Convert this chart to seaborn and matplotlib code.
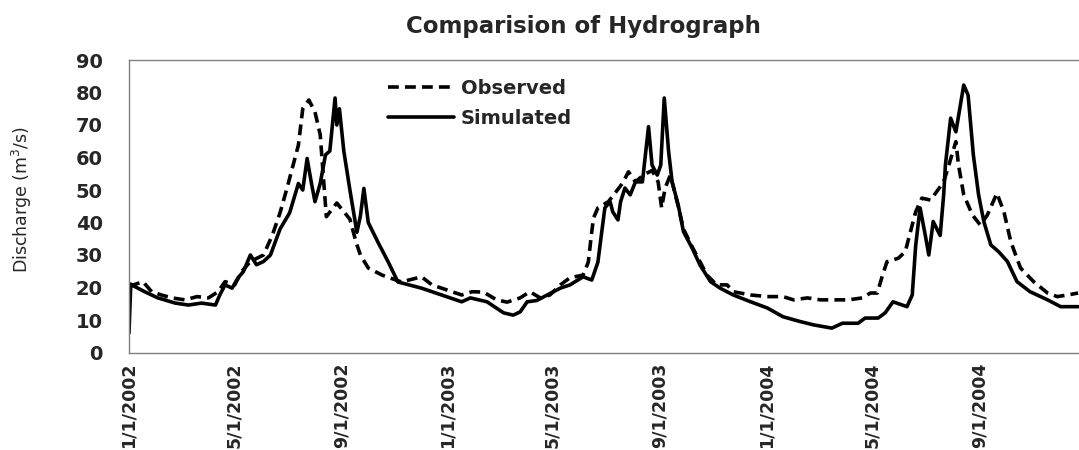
import pandas as pd
import numpy as np
import matplotlib.pyplot as plt
import seaborn as sns

sim_day = [0, 2, 3, 18, 33, 53, 68, 83, 99, 104, 110, 118, 125, 131, 139, 146, 154, 162,
           173, 184, 194, 199, 204, 209, 213, 219, 225, 230, 236, 238, 241, 246, 253, 261,
           265, 269, 274, 285, 297, 308, 335, 358, 381, 391, 410, 429, 440, 448, 456, 467,
           479, 494, 505, 520, 530, 537, 542, 545, 551, 554, 560, 563, 568, 574, 580, 588,
           595, 599, 605, 609, 613, 618, 622, 629, 635, 645, 654, 666, 677, 692, 712, 731,
           749, 769, 784, 805, 817, 835, 843, 858, 866, 875, 891, 897, 901, 906, 912, 916,
           921, 929, 933, 935, 941, 947, 956, 961, 967, 973, 979, 987, 996, 1006, 1017,
           1032, 1052, 1067, 1087]
sim_q = [6, 21, 20.8, 18.7, 16.8, 15.2, 14.6, 15.2, 14.6, 17.7, 20.8, 19.8, 23, 24.9, 30,
         27, 28, 30, 38, 43, 52, 50, 59.7, 52, 46.4, 52, 60.8, 62, 78.3, 70, 75, 62, 50, 37,
         42, 50.5, 40, 34, 27.8, 21.7, 19.8, 17.7, 15.6, 16.8, 15.6, 12.2, 11.5, 12.5, 15.6,
         16, 17.7, 19.8, 20.8, 23.3, 22.3, 27.8, 38.3, 44.5, 46.4, 43.3, 40.8, 46.4, 50.6,
         48.5, 52.5, 52.5, 69.5, 57.7, 54.6, 57.7, 78.3, 61.8, 52.5, 45.4, 37.2, 32.1, 26.9,
         21.8, 19.8, 17.7, 15.6, 13.7, 11, 9.5, 8.5, 7.5, 9, 9, 10.6, 10.6, 12.2, 15.6, 14.1,
         17.7, 33, 44.5, 36, 30, 40.3, 36, 48.5, 57.7, 72.1, 67.9, 82.3, 79.2, 60.8, 48.5,
         40.3, 33.1, 31, 28, 21.8, 18.7, 16.2, 14.1, 14.1]

obs_day = [0, 5, 16, 26, 37, 49, 64, 78, 91, 102, 110, 121, 129, 139, 154, 164, 173, 181,
           188, 194, 199, 206, 213, 219, 226, 238, 253, 260, 265, 274, 290, 312, 335, 347,
           358, 381, 393, 406, 421, 433, 448, 459, 471, 482, 494, 505, 520, 526, 530, 532,
           537, 549, 565, 572, 580, 589, 599, 606, 610, 614, 620, 629, 635, 645, 662, 673,
           685, 692, 712, 731, 749, 761, 777, 792, 805, 824, 840, 849, 857, 863, 868, 881,
           889, 895, 901, 908, 918, 925, 933, 939, 947, 950, 956, 966, 975, 983, 994, 1002,
           1010, 1021, 1036, 1052, 1063, 1075, 1087]
obs_q = [21, 20.8, 21.8, 18.7, 17.7, 16.8, 16.2, 17.2, 16.8, 18.7, 21.8, 20.8, 24.9, 28, 30,
         36, 43, 50.6, 57.7, 63.8, 75, 77.7, 74, 67, 41.8, 46, 41, 34, 30, 26, 23.8, 21.7,
         23.3, 20.8, 19.8, 17.7, 18.7, 18.6, 16.2, 15.5, 16.8, 18.7, 16.8, 17.7, 20.8, 23,
         23.8, 27.8, 37.2, 41.4, 44.5, 46.4, 52, 55.6, 52.5, 54.6, 56, 52.5, 44.5, 50.6, 54.6,
         45, 38, 32.5, 23.8, 20.8, 20.8, 18.7, 17.7, 17.2, 17.2, 16.2, 16.8, 16.2, 16.2, 16.2,
         16.8, 18.3, 18.3, 23.8, 27.9, 29, 31, 37.2, 43.3, 47.5, 46.9, 49.5, 52.5, 57.7, 64.9,
         57.7, 48.5, 42.3, 39.2, 42.3, 49, 43.3, 34, 26, 21.8, 18.3, 17.2, 17.7, 18.3]

tick_dates = ["2002-01-01", "2002-05-01", "2002-09-01", "2003-01-01", "2003-05-01",
              "2003-09-01", "2004-01-01", "2004-05-01", "2004-09-01"]
tick_labels = ["1/1/2002", "5/1/2002", "9/1/2002", "1/1/2003", "5/1/2003",
               "9/1/2003", "1/1/2004", "5/1/2004", "9/1/2004"]

start = pd.Timestamp("2002-01-01")
df = pd.concat([
    pd.DataFrame({"date": start + pd.to_timedelta(obs_day, unit="D"), "q": obs_q, "series": "Observed"}),
    pd.DataFrame({"date": start + pd.to_timedelta(sim_day, unit="D"), "q": sim_q, "series": "Simulated"}),
])

sns.set_style("white")
plt.rcParams["font.family"] = ["DejaVu Sans"]

fig = plt.figure(figsize=(10.79, 4.5), dpi=100)
ax = fig.add_axes([129 / 1079, 97.5 / 450, 950 / 1079, 292.5 / 450])

sns.lineplot(data=df, x="date", y="q", style="series", color="black", linewidth=2.6,
             dashes={"Observed": (3.0, 1.7), "Simulated": ""}, ax=ax)

ax.set_xlim(start, start + pd.Timedelta(days=1088))
ax.set_ylim(0, 90)
ax.set_yticks(range(0, 91, 10))
ax.set_xticks(pd.to_datetime(tick_dates))
ax.set_xticklabels(tick_labels, rotation=90, fontsize=12.5, fontweight="bold", va="top")
for t in ax.get_yticklabels():
    t.set_fontsize(14)
    t.set_fontweight("bold")
ax.tick_params(axis="both", length=0)
ax.tick_params(axis="y", pad=19)
ax.tick_params(axis="x", pad=7)
ax.set_xlabel("")
ax.set_ylabel("")
for s in ["top", "left", "bottom", "right"]:
    ax.spines[s].set_color("#808080")
    ax.spines[s].set_linewidth(1)
ax.spines["right"].set_visible(False)

ax.legend(loc="upper left", bbox_to_anchor=(388 / 1079, 371 / 450), bbox_transform=fig.transFigure,
          frameon=False, borderpad=0, borderaxespad=0, handlelength=3.4, handletextpad=0.35,
          labelspacing=0.55, prop={"size": 14, "weight": "bold"})

fig.text(583 / 1079, 1 - 26 / 450, "Comparision of Hydrograph", ha="center", va="center",
         fontsize=16.5, fontweight="bold")
fig.text(22 / 1079, 1 - 199 / 450, "Discharge (m$^3$/s)", rotation=90, ha="center",
         va="center", fontsize=12.5)

fig.savefig("out.png", dpi=100)
